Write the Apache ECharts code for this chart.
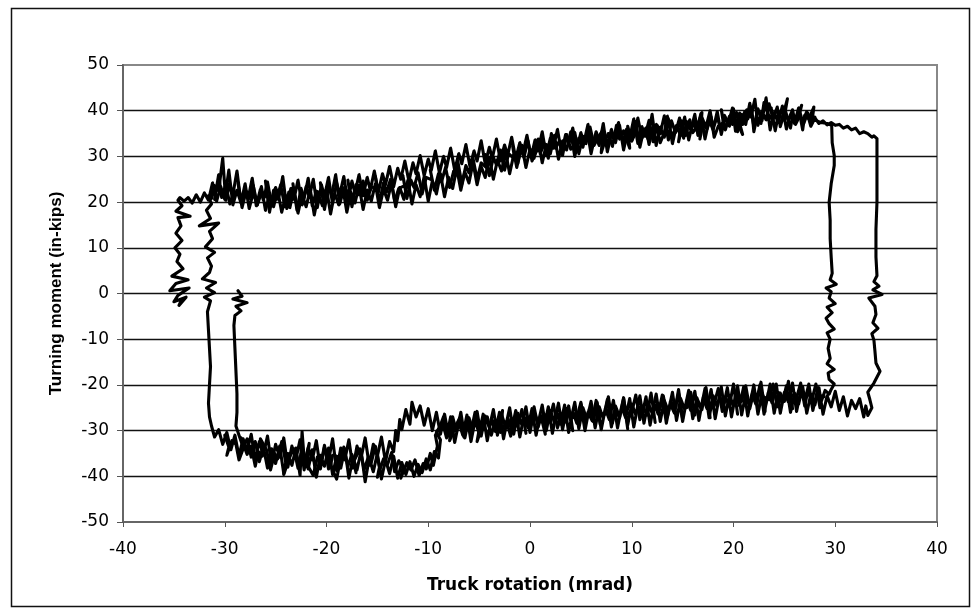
<!DOCTYPE html>
<html>
<head>
<meta charset="utf-8">
<script src="https://cdn.jsdelivr.net/npm/echarts@6/dist/echarts.min.js"></script>
<style>
html,body{margin:0;padding:0;background:#fff;}
#chart{width:974px;height:616px;}
</style>
</head>
<body>
<div id="chart"></div>
<script>
// ---- Axis definitions ----
var xTicks = [-40, -30, -20, -10, 0, 10, 20, 30, 40];
var yTicks = [-50, -40, -30, -20, -10, 0, 10, 20, 30, 40, 50];
var xTitle = 'Truck rotation (mrad)';
var yTitle = 'Turning moment (in-kips)';

// ---- Data segments [rotation mrad, moment in-kips] ----
// inner-left vertical (down from zero blob)
var leftInnerDown = [[-28.7,0.6],[-28.3,-0.6],[-29.2,-1.2],[-27.8,-2.0],[-28.9,-2.8],[-28.4,-3.8],[-29.0,-4.8],[-29.1,-7.0],[-29.0,-12.0],[-28.9,-17.0],[-28.8,-22.0],[-28.8,-26.0],[-28.9,-29.0],[-28.6,-31.0]];

// bottom branch, first pass (lower side of loop near -11)
var bottomPass1 = [[-28.6,-31.0],[-28.2,-33.6],[-27.8,-31.8],[-27.4,-35.8],[-27.0,-32.4],[-26.6,-36.8],[-26.2,-33.6],[-25.8,-38.2],[-25.4,-34.0],[-25.0,-37.2],[-24.6,-33.4],[-24.2,-39.4],[-23.8,-35.0],[-23.4,-37.6],[-23.0,-33.8],[-22.6,-39.8],[-22.4,-30.2],[-22.2,-36.0],[-21.8,-38.4],[-21.4,-34.2],[-21.0,-40.2],[-20.6,-35.4],[-20.2,-37.8],[-19.8,-33.8],[-19.4,-39.6],[-19.0,-35.6],[-18.6,-38.2],[-18.2,-34.0],[-17.8,-40.4],[-17.4,-35.8],[-17.0,-38.6],[-16.6,-34.4],[-16.2,-41.2],[-15.8,-36.0],[-15.4,-39.0],[-15.0,-35.0],[-14.6,-40.6],[-14.2,-36.4],[-13.8,-39.4],[-13.4,-35.6],[-13.0,-40.4],[-12.6,-37.0],[-12.2,-39.6],[-11.8,-36.8],[-11.4,-40.0],[-11.0,-37.4],[-10.6,-39.2],[-10.2,-36.2],[-9.8,-38.6],[-9.4,-34.6],[-9.0,-36.0],[-8.8,-32.0],[-9.2,-30.4],[-8.6,-28.2],[-8.2,-31.6],[-7.8,-27.0],[-7.4,-32.6],[-7.0,-28.2],[-6.6,-31.0],[-6.2,-26.6],[-5.8,-32.4],[-5.4,-27.8],[-5.0,-30.6],[-4.6,-26.4],[-4.2,-32.2],[-3.8,-27.4],[-3.4,-30.2],[-3.0,-26.0],[-2.6,-31.8],[-2.2,-27.2],[-1.8,-29.8],[-1.4,-25.6],[-1.0,-31.4],[-0.6,-26.8],[-0.2,-29.4],[0.2,-25.2],[0.6,-31.0],[1.0,-26.4],[1.4,-29.0],[1.8,-24.8],[2.2,-30.6],[2.6,-26.0],[3.0,-28.6],[3.4,-24.4],[3.8,-30.4],[4.2,-25.8],[4.6,-28.4],[5.0,-24.2],[5.4,-30.0],[5.8,-25.4],[6.2,-28.0],[6.6,-23.8],[7.0,-29.8],[7.4,-25.2],[7.8,-27.6],[8.2,-23.4],[8.6,-29.4],[9.0,-24.8],[9.4,-27.2],[9.8,-23.0],[10.2,-29.2],[10.6,-24.4],[11.0,-26.8],[11.4,-22.6],[11.8,-28.8],[12.2,-24.0],[12.6,-26.4],[13.0,-22.2],[13.4,-28.4],[13.8,-23.6],[14.2,-26.0],[14.6,-21.8],[15.0,-28.0],[15.4,-23.2],[15.8,-25.6],[16.2,-21.4],[16.6,-27.8],[17.0,-22.8],[17.4,-25.2],[17.8,-21.0],[18.2,-27.4],[18.6,-22.6],[19.0,-24.8],[19.4,-20.6],[19.8,-27.0],[20.2,-22.2],[20.6,-24.6],[21.0,-20.4],[21.4,-26.8],[21.8,-22.0],[22.2,-24.2],[22.6,-20.0],[23.0,-26.4],[23.4,-21.8],[23.8,-24.0],[24.2,-19.8],[24.6,-26.2],[25.0,-21.6],[25.4,-23.8],[25.8,-19.6],[26.2,-25.8],[26.6,-21.4],[27.0,-23.6],[27.4,-19.8],[27.8,-25.6],[28.2,-21.6],[28.6,-23.8],[29.0,-21.2],[29.4,-22.0]];

// right inner vertical (up)
var rightInnerUp = [[29.4,-22.0],[29.6,-21.0],[29.9,-19.8],[29.4,-18.8],[29.3,-17.4],[29.9,-16.6],[29.2,-15.4],[29.5,-14.2],[29.3,-12.0],[29.5,-10.0],[29.2,-8.6],[29.9,-7.8],[29.4,-6.6],[29.1,-5.4],[29.7,-4.2],[29.2,-3.0],[30.0,-2.2],[29.4,-1.0],[29.6,0.4],[29.1,1.2],[30.1,2.0],[29.5,3.0],[29.7,4.4],[29.6,8.0],[29.5,12.0],[29.5,16.0],[29.4,20.0],[29.6,24.0],[29.9,28.0],[29.9,30.2],[29.7,33.0],[29.65,36.8]];

// top branch, first pass (upper side between -10 and -3)
var topPass1 = [[29.65,36.8],[29.2,37.2],[28.6,37.4],[28.1,37.9],[27.6,37.6],[27.3,39.5],[26.9,37.2],[26.5,38.8],[26.1,37.0],[25.8,40.2],[25.4,38.0],[25.0,39.6],[24.6,36.5],[24.3,40.8],[23.9,38.2],[23.5,41.5],[23.2,38.0],[22.8,39.8],[22.4,36.8],[22.1,42.5],[21.7,38.6],[21.3,40.2],[20.9,37.0],[20.6,39.5],[20.2,35.5],[19.9,40.6],[19.5,37.3],[19.1,39.0],[18.8,35.2],[18.4,38.8],[18.0,36.0],[17.7,40.0],[17.3,36.4],[16.9,38.5],[16.5,34.6],[16.2,39.2],[15.8,35.8],[15.4,37.6],[15.1,34.0],[14.7,38.4],[14.3,35.2],[13.9,37.8],[13.6,33.6],[13.2,38.9],[12.8,35.0],[12.5,36.8],[12.1,33.2],[11.7,37.9],[11.3,34.4],[11.0,36.5],[10.6,32.8],[10.2,38.2],[9.8,34.0],[9.5,36.0],[9.1,33.0],[8.7,37.4],[8.3,33.8],[8.0,35.9],[7.6,32.2],[7.2,36.8],[6.8,33.4],[6.5,35.4],[6.1,31.8],[5.7,37.0],[5.3,33.0],[5.0,35.2],[4.6,31.5],[4.2,36.2],[3.8,32.6],[3.5,34.8],[3.1,30.8],[2.7,35.9],[2.3,31.8],[2.0,34.0],[1.6,30.2],[1.2,35.4],[0.8,31.2],[0.5,33.6],[0.1,29.8],[-0.3,34.6],[-0.7,30.6],[-1.0,33.0],[-1.4,29.5],[-1.8,34.2],[-2.2,30.2],[-2.5,32.5],[-2.9,29.0],[-3.3,33.8],[-3.7,29.6],[-4.0,32.0],[-4.4,28.4],[-4.8,33.4],[-5.2,29.0],[-5.5,31.2],[-5.9,27.8],[-6.3,32.6],[-6.7,28.4],[-7.0,30.6],[-7.4,27.0],[-7.8,31.8],[-8.2,27.6],[-8.5,30.0],[-8.9,26.4],[-9.3,31.2],[-9.7,27.0],[-10.0,29.4],[-10.4,25.8],[-10.8,30.2],[-11.2,26.2],[-11.5,28.6],[-11.9,24.6],[-12.3,29.0],[-12.7,25.0],[-13.0,27.4],[-13.4,23.4],[-13.8,27.8],[-14.2,23.8],[-14.5,26.2],[-14.9,22.2],[-15.3,26.8],[-15.7,22.6],[-16.0,25.4],[-16.4,21.4],[-16.8,26.0],[-17.2,22.0],[-17.5,24.6],[-17.9,20.2],[-18.3,25.6],[-18.7,21.6],[-19.0,24.2],[-19.4,19.6],[-19.8,25.4],[-20.2,21.2],[-20.5,23.8],[-20.9,18.8],[-21.3,25.0],[-21.7,21.0],[-22.0,23.4],[-22.4,19.4],[-22.8,24.8],[-23.2,20.6],[-23.5,23.0],[-23.9,18.6],[-24.3,25.6],[-24.7,20.8],[-25.0,23.2],[-25.4,19.6],[-25.8,24.4],[-26.2,20.4],[-26.5,22.8],[-26.9,19.2],[-27.3,25.2],[-27.7,20.8],[-28.0,23.4],[-28.4,19.8],[-28.8,26.8],[-29.2,21.6],[-29.5,24.0],[-29.9,20.4],[-30.2,29.6],[-30.6,22.4],[-31.0,23.6],[-31.3,20.8],[-31.6,21.4]];

// left inner-outer vertical (down)
var leftMidDown = [[-31.6,21.4],[-31.3,19.6],[-31.8,18.2],[-31.4,16.4],[-32.5,14.8],[-30.6,15.4],[-31.5,13.6],[-31.2,12.0],[-31.9,10.2],[-31.0,9.0],[-31.7,7.8],[-31.3,6.0],[-31.5,4.6],[-32.2,3.2],[-30.9,2.4],[-31.8,1.2],[-31.0,0.2],[-32.0,-0.8],[-31.4,-1.6],[-31.7,-4.0],[-31.6,-8.0],[-31.5,-12.0],[-31.4,-16.0],[-31.5,-20.0],[-31.6,-24.0],[-31.5,-27.0],[-31.3,-29.0]];

// bottom branch, second pass (upper side of loop near -11)
var bottomPass2 = [[-31.3,-29.0],[-31.0,-31.4],[-30.6,-29.8],[-30.2,-33.0],[-29.8,-30.4],[-29.4,-34.2],[-29.0,-31.0],[-28.6,-35.6],[-28.2,-31.8],[-27.8,-34.4],[-27.4,-30.8],[-27.0,-36.6],[-26.6,-32.4],[-26.2,-35.2],[-25.8,-31.2],[-25.4,-37.4],[-25.0,-33.0],[-24.6,-35.8],[-24.2,-31.6],[-23.8,-38.0],[-23.4,-33.4],[-23.0,-36.2],[-22.6,-32.0],[-22.2,-38.6],[-21.8,-33.8],[-21.4,-36.4],[-21.0,-32.2],[-20.6,-38.4],[-20.2,-33.6],[-19.8,-36.6],[-19.4,-31.8],[-19.0,-38.8],[-18.6,-33.8],[-18.2,-36.4],[-17.8,-32.0],[-17.4,-38.2],[-17.0,-33.4],[-16.6,-36.0],[-16.2,-31.6],[-15.8,-37.6],[-15.4,-33.0],[-15.0,-35.6],[-14.6,-31.4],[-14.2,-36.8],[-13.8,-32.4],[-13.4,-34.6],[-13.2,-30.0],[-13.0,-32.2],[-12.8,-27.6],[-12.6,-29.8],[-12.2,-25.4],[-11.8,-28.6],[-11.6,-23.8],[-11.2,-27.0],[-10.8,-24.6],[-10.4,-28.8],[-10.0,-25.2],[-9.6,-30.0],[-9.2,-26.0],[-8.8,-30.8],[-8.4,-26.4],[-8.0,-31.2],[-7.6,-27.0],[-7.2,-30.4],[-6.8,-26.0],[-6.4,-31.6],[-6.0,-27.2],[-5.6,-29.8],[-5.2,-25.8],[-4.8,-31.2],[-4.4,-26.8],[-4.0,-29.4],[-3.6,-25.4],[-3.2,-31.0],[-2.8,-26.4],[-2.4,-29.2],[-2.0,-25.0],[-1.6,-30.8],[-1.2,-26.2],[-0.8,-28.8],[-0.4,-24.8],[0.0,-30.4],[0.4,-25.8],[0.8,-28.4],[1.2,-24.4],[1.6,-30.0],[2.0,-25.6],[2.4,-28.2],[2.8,-24.0],[3.2,-29.8],[3.6,-25.2],[4.0,-27.8],[4.4,-23.8],[4.8,-29.6],[5.2,-25.0],[5.6,-27.6],[6.0,-23.6],[6.4,-29.4],[6.8,-24.8],[7.2,-27.4],[7.6,-23.2],[8.0,-29.2],[8.4,-24.6],[8.8,-27.0],[9.2,-22.8],[9.6,-28.8],[10.0,-24.2],[10.4,-26.6],[10.8,-22.4],[11.2,-28.4],[11.6,-23.8],[12.0,-26.2],[12.4,-22.0],[12.8,-28.0],[13.2,-23.4],[13.6,-25.8],[14.0,-21.6],[14.4,-27.8],[14.8,-23.0],[15.2,-25.4],[15.6,-21.2],[16.0,-27.4],[16.4,-22.8],[16.8,-25.2],[17.2,-20.8],[17.6,-27.2],[18.0,-22.4],[18.4,-24.8],[18.8,-20.4],[19.2,-26.8],[19.6,-22.2],[20.0,-24.6],[20.4,-20.2],[20.8,-26.6],[21.2,-22.0],[21.6,-24.4],[22.0,-20.0],[22.4,-26.4],[22.8,-21.8],[23.2,-24.2],[23.6,-19.8],[24.0,-26.2],[24.4,-21.6],[24.8,-24.0],[25.2,-20.2],[25.6,-26.0],[26.0,-21.8],[26.4,-24.2],[26.8,-20.4],[27.2,-26.2],[27.6,-22.0],[28.0,-24.4],[28.4,-20.6],[28.8,-26.4],[29.2,-22.4],[29.6,-24.8],[30.0,-21.4],[30.4,-25.6],[30.8,-22.6],[31.2,-26.8],[31.6,-23.4],[32.0,-25.2],[32.4,-23.0],[32.8,-27.0],[33.0,-24.6],[33.2,-26.7]];

// right outer vertical (up)
var rightOuterUp = [[33.2,-26.7],[33.6,-25.0],[33.4,-23.2],[33.2,-21.6],[33.8,-19.6],[34.4,-17.0],[34.0,-15.2],[33.9,-12.6],[33.8,-10.2],[33.6,-8.8],[34.2,-7.6],[33.7,-6.4],[34.0,-4.6],[33.9,-2.8],[33.3,-1.0],[34.6,-0.2],[33.7,0.8],[34.3,1.6],[33.8,2.6],[34.1,3.9],[34.0,8.0],[34.0,14.0],[34.1,20.0],[34.1,26.0],[34.1,30.0],[34.1,33.9]];

// top branch, second pass (lower side between -10 and -3)
var topPass2 = [[34.1,33.9],[33.8,34.5],[33.6,34.2],[33.2,35.0],[32.8,35.4],[32.4,35.0],[32.0,36.2],[31.6,35.8],[31.2,36.6],[30.8,36.2],[30.4,37.0],[30.0,36.8],[29.6,37.4],[29.2,36.9],[28.8,37.8],[28.4,37.2],[28.0,38.4],[27.6,36.6],[27.2,39.8],[26.8,37.6],[26.4,40.6],[26.0,37.2],[25.6,39.2],[25.2,36.0],[24.8,41.0],[24.4,37.4],[24.0,39.6],[23.6,35.8],[23.2,42.8],[22.8,37.8],[22.4,40.4],[22.0,36.6],[21.6,41.6],[21.2,37.0],[20.8,39.2],[20.4,35.4],[20.0,40.4],[19.6,36.6],[19.2,38.6],[18.8,34.8],[18.4,39.8],[18.0,35.8],[17.6,38.0],[17.2,33.8],[16.8,39.4],[16.4,35.6],[16.0,37.4],[15.6,33.6],[15.2,38.6],[14.8,34.6],[14.4,36.8],[14.0,32.8],[13.6,38.2],[13.2,34.2],[12.8,36.4],[12.4,32.4],[12.0,39.2],[11.6,33.8],[11.2,36.0],[10.8,32.0],[10.4,37.6],[10.0,33.4],[9.6,35.6],[9.2,31.4],[8.8,36.8],[8.4,33.0],[8.0,35.0],[7.6,31.0],[7.2,37.2],[6.8,32.4],[6.4,34.6],[6.0,30.6],[5.6,36.0],[5.2,32.0],[4.8,34.0],[4.4,30.0],[4.0,35.4],[3.6,31.4],[3.2,33.4],[2.8,29.4],[2.4,34.6],[2.0,30.6],[1.6,32.6],[1.2,28.6],[0.8,33.8],[0.4,29.6],[0.0,31.6],[-0.4,27.6],[-0.8,32.4],[-1.2,28.4],[-1.6,30.4],[-2.0,26.2],[-2.4,31.0],[-2.8,26.8],[-3.2,29.2],[-3.6,25.0],[-4.0,29.8],[-4.4,25.4],[-4.8,27.8],[-5.2,23.8],[-5.6,28.6],[-6.0,24.2],[-6.4,26.6],[-6.8,22.6],[-7.2,27.4],[-7.6,23.0],[-8.0,25.4],[-8.4,21.2],[-8.8,26.2],[-9.2,21.8],[-9.6,24.6],[-10.0,20.2],[-10.4,25.6],[-10.8,21.2],[-11.2,23.8],[-11.6,19.6],[-12.0,24.8],[-12.4,20.6],[-12.8,23.2],[-13.2,19.0],[-13.6,24.4],[-14.0,20.4],[-14.4,22.8],[-14.8,18.8],[-15.2,24.0],[-15.6,20.2],[-16.0,22.6],[-16.4,18.4],[-16.8,23.6],[-17.2,19.8],[-17.6,22.2],[-18.0,17.8],[-18.4,23.2],[-18.8,19.4],[-19.2,22.0],[-19.6,17.4],[-20.0,23.0],[-20.4,19.2],[-20.8,21.8],[-21.2,17.2],[-21.6,22.8],[-22.0,19.0],[-22.4,21.6],[-22.8,17.6],[-23.2,23.0],[-23.6,18.8],[-24.0,21.4],[-24.4,17.8],[-24.8,22.6],[-25.2,19.0],[-25.6,21.6],[-26.0,18.2],[-26.4,23.4],[-26.8,19.4],[-27.2,22.0],[-27.6,18.6],[-28.0,24.0],[-28.4,19.8],[-28.8,22.6],[-29.2,19.4],[-29.6,27.0],[-30.0,20.6],[-30.4,23.4],[-30.8,20.2],[-31.2,24.2],[-31.6,20.4],[-32.0,22.0],[-32.4,20.0],[-32.8,21.6],[-33.2,19.8],[-33.6,21.0],[-34.0,20.2],[-34.4,21.0],[-34.6,20.4]];

// left outer vertical (down to zero blob)
var leftOuterDown = [[-34.6,20.4],[-34.2,19.2],[-34.8,18.0],[-33.4,16.9],[-34.6,16.6],[-34.3,14.8],[-34.8,13.2],[-34.2,11.6],[-34.9,10.0],[-34.4,8.6],[-34.7,7.0],[-34.1,5.4],[-35.2,3.8],[-33.6,3.0],[-34.8,2.2],[-35.4,0.6],[-33.5,1.2],[-34.6,-0.4],[-35.0,-1.8],[-33.8,-0.8],[-34.5,-2.6],[-34.2,-1.2]];

// extra overlapping pass along the top band
var topPass3 = [[28.0,38.6],[27.7,37.4],[27.9,40.8],[27.4,38.2],[27.0,39.0],[26.8,35.8],[26.5,39.4],[26.7,41.2],[26.2,38.0],[25.8,38.8],[25.6,36.2],[25.1,40.0],[25.3,42.6],[24.8,38.4],[24.4,39.0],[24.1,35.6],[23.7,40.6],[23.9,37.8],[23.4,39.2],[23.0,41.8],[22.7,37.2],[22.3,38.6],[22.0,35.4],[21.8,40.4],[21.4,38.2],[21.1,39.8],[20.6,36.2],[20.9,34.8],[20.3,39.6],[19.9,37.0],[19.6,38.8],[19.2,35.8],[18.8,40.2],[19.0,37.4],[18.5,36.6],[18.1,34.2],[17.8,38.6],[17.4,36.0],[17.0,37.2],[16.7,33.8],[16.9,39.6],[16.4,36.4],[16.0,35.2],[15.7,38.0],[15.3,34.6],[15.0,36.8],[14.6,33.2],[14.9,37.8],[14.3,36.0],[13.9,34.4],[13.5,38.8],[13.2,35.2],[12.8,33.0],[12.4,37.0],[12.7,35.6],[12.1,36.6],[11.7,32.6],[11.4,36.2],[11.0,34.0],[10.6,38.4],[10.3,34.8],[10.0,33.4],[9.6,36.6],[9.8,31.8],[9.2,35.6],[8.8,33.8],[8.5,36.8],[8.1,32.2],[7.7,35.0],[7.4,33.6],[7.0,30.8],[7.2,35.8],[6.7,34.2],[6.3,32.4],[5.9,36.4],[5.5,32.8],[5.2,34.4],[4.8,30.6],[4.4,35.2],[4.6,33.0],[4.0,31.6],[3.6,34.8],[3.2,30.2],[2.9,33.4],[2.5,31.8],[2.1,35.0],[1.8,29.6],[1.4,32.8],[1.0,30.6],[1.2,34.2],[0.6,31.0],[0.2,29.0],[-0.2,33.4],[-0.6,29.8],[-0.9,31.8],[-1.3,27.6],[-1.7,32.2],[-1.5,29.4],[-2.1,30.6],[-2.5,27.0],[-2.9,31.4],[-3.3,28.2],[-3.6,29.8],[-4.0,25.8],[-4.4,30.4],[-4.2,27.4],[-4.8,28.6],[-5.2,25.0],[-5.6,29.6],[-6.0,26.4],[-6.3,28.0],[-6.7,24.0],[-7.1,29.0],[-6.9,25.6],[-7.5,26.8],[-7.9,23.2],[-8.3,27.6],[-8.7,24.4],[-9.0,26.2],[-9.4,22.6],[-9.8,27.0],[-9.6,24.8],[-10.2,25.4],[-10.6,21.8],[-11.0,26.4],[-11.4,23.2],[-11.7,24.8],[-12.1,20.8],[-12.5,25.8],[-12.3,23.6],[-12.9,23.0],[-13.3,20.2],[-13.7,25.0],[-14.1,22.2],[-14.4,24.2],[-14.8,19.8],[-15.2,25.6],[-15.0,22.8],[-15.6,23.4],[-16.0,20.4],[-16.4,24.6],[-16.8,21.6],[-17.1,23.8],[-17.5,19.0],[-17.9,24.8],[-17.7,22.2],[-18.3,22.8],[-18.7,19.6],[-19.1,26.0],[-19.5,21.4],[-19.8,23.4],[-20.2,18.4],[-20.6,24.2],[-20.4,21.8],[-21.0,22.4],[-21.4,19.2],[-21.8,25.2],[-22.2,20.8],[-22.5,23.0],[-22.9,18.2],[-23.3,24.0],[-23.1,21.2],[-23.7,22.2],[-24.1,19.0],[-24.5,23.8],[-24.9,20.6],[-25.2,22.6],[-25.6,17.8],[-26.0,24.6],[-25.8,21.0],[-26.4,22.0],[-26.8,19.4],[-27.2,23.6],[-27.6,20.8],[-27.9,22.4],[-28.3,18.8],[-28.7,24.2],[-28.5,21.4],[-29.1,22.2],[-29.5,19.6],[-29.9,23.8],[-30.3,21.0],[-30.6,26.0],[-31.0,20.6]];

// extra overlapping pass along the bottom band
var bottomPass3 = [[-30.0,-31.0],[-29.6,-33.6],[-29.8,-35.4],[-29.3,-32.2],[-28.9,-33.0],[-28.6,-36.4],[-28.2,-34.0],[-28.4,-31.6],[-27.8,-35.2],[-27.4,-33.4],[-27.0,-37.8],[-26.7,-34.6],[-26.3,-35.6],[-26.5,-31.8],[-25.9,-34.2],[-25.5,-38.6],[-25.1,-35.0],[-24.8,-36.2],[-24.4,-32.4],[-24.0,-37.0],[-24.2,-39.6],[-23.6,-35.6],[-23.2,-34.0],[-22.8,-38.2],[-22.5,-35.0],[-22.1,-36.6],[-21.7,-32.8],[-21.9,-37.4],[-21.3,-39.8],[-20.9,-35.8],[-20.5,-36.8],[-20.2,-33.2],[-19.8,-38.4],[-19.4,-35.4],[-19.6,-37.6],[-19.0,-40.6],[-18.6,-36.0],[-18.3,-33.6],[-17.9,-37.8],[-17.5,-35.2],[-17.1,-39.2],[-17.3,-36.6],[-16.7,-34.0],[-16.3,-38.6],[-15.9,-35.8],[-15.6,-37.0],[-15.2,-33.4],[-14.8,-38.0],[-15.0,-40.2],[-14.4,-36.2],[-14.0,-37.4],[-13.6,-34.8],[-13.3,-39.0],[-12.9,-36.6],[-12.5,-38.2],[-12.7,-40.4],[-12.1,-37.0],[-11.7,-38.6],[-11.3,-36.4],[-10.9,-39.8],[-10.5,-37.2],[-10.2,-38.4],[-9.8,-35.0],[-9.5,-37.6],[-9.1,-33.4],[-9.3,-31.0],[-8.9,-29.4],[-8.5,-27.0],[-8.1,-30.8],[-7.7,-28.4],[-7.9,-32.2],[-7.3,-29.0],[-6.9,-27.2],[-6.5,-31.4],[-6.1,-28.0],[-5.8,-30.2],[-5.4,-26.0],[-5.0,-29.8],[-5.2,-32.4],[-4.6,-28.4],[-4.2,-27.0],[-3.8,-31.0],[-3.5,-28.6],[-3.1,-29.6],[-2.7,-25.6],[-2.9,-30.4],[-2.3,-28.0],[-1.9,-31.2],[-1.5,-27.4],[-1.2,-29.0],[-0.8,-25.4],[-0.4,-30.6],[-0.6,-27.8],[0.0,-28.4],[0.4,-24.8],[0.8,-29.2],[1.1,-27.0],[1.5,-30.8],[1.3,-26.2],[1.9,-27.6],[2.3,-24.2],[2.7,-29.4],[3.1,-26.4],[3.4,-28.2],[3.8,-24.6],[4.2,-30.0],[4.0,-26.8],[4.6,-27.4],[5.0,-23.8],[5.4,-29.0],[5.7,-26.0],[6.1,-27.8],[6.5,-23.4],[6.9,-28.6],[6.7,-25.8],[7.3,-26.6],[7.7,-22.6],[8.1,-28.4],[8.4,-25.2],[8.8,-27.2],[9.2,-23.0],[9.6,-29.6],[9.4,-26.4],[10.0,-26.0],[10.4,-22.2],[10.8,-27.6],[11.1,-24.8],[11.5,-26.6],[11.9,-21.8],[12.3,-28.2],[12.1,-25.0],[12.7,-25.6],[13.1,-22.4],[13.5,-27.0],[13.8,-24.2],[14.2,-26.2],[14.6,-21.0],[15.0,-27.4],[14.8,-24.6],[15.4,-25.0],[15.8,-21.6],[16.2,-26.6],[16.5,-23.6],[16.9,-25.4],[17.3,-20.6],[17.7,-27.2],[17.5,-23.8],[18.1,-24.2],[18.5,-20.8],[18.9,-25.8],[19.2,-22.8],[19.6,-24.6],[20.0,-19.8],[20.4,-26.4],[20.2,-23.2],[20.8,-23.6],[21.2,-20.2],[21.6,-25.2],[21.9,-22.4],[22.3,-24.2],[22.7,-19.4],[23.1,-25.8],[22.9,-22.6],[23.5,-23.2],[23.9,-19.8],[24.3,-24.8],[24.6,-21.8],[25.0,-23.6],[25.4,-19.2],[25.8,-25.2],[25.6,-22.0],[26.2,-22.8],[26.6,-19.6],[27.0,-24.6],[27.3,-21.4],[27.7,-23.4],[28.1,-19.8],[28.5,-25.0],[28.3,-22.2],[28.9,-22.6]];

var trace = [].concat(leftInnerDown, bottomPass1, rightInnerUp, topPass1, leftMidDown,
                      bottomPass2, rightOuterUp, topPass2, leftOuterDown);

function traceSeries(d) {
  return {
    type: 'line', data: d, showSymbol: false, symbol: 'none', clip: true,
    lineStyle: {color: '#000', width: 3.1, join: 'round', cap: 'round'}
  };
}

var chart = echarts.init(document.getElementById('chart'), null, {renderer: 'canvas'});
var tickFont = {fontFamily: 'DejaVu Sans', fontSize: 17, color: '#000'};
chart.setOption({
  animation: false,
  backgroundColor: '#fff',
  graphic: [{
    type: 'rect', left: 9, top: 6, silent: true,
    shape: {width: 958, height: 598},
    style: {fill: 'none', stroke: '#111', lineWidth: 1.5}
  }],
  grid: {left: 123, top: 65, width: 814, height: 457, show: true,
         borderColor: '#888', borderWidth: 2, backgroundColor: 'transparent'},
  xAxis: {
    type: 'value', min: xTicks[0], max: xTicks[xTicks.length-1], interval: 10,
    name: xTitle, nameLocation: 'middle', nameGap: 55,
    nameTextStyle: {fontFamily: 'DejaVu Sans', fontWeight: 'bold', fontSize: 17, color: '#000'},
    axisLine: {onZero: false, lineStyle: {color: '#666', width: 2}},
    axisTick: {show: true, inside: false, length: 5, lineStyle: {color: '#555', width: 1}},
    axisLabel: Object.assign({margin: 19}, tickFont),
    splitLine: {show: false}
  },
  yAxis: {
    type: 'value', min: yTicks[0], max: yTicks[yTicks.length-1], interval: 10,
    name: yTitle, nameLocation: 'middle', nameGap: 58, nameRotate: 90,
    nameTextStyle: {fontFamily: 'Liberation Sans', fontWeight: 'bold', fontSize: 17, color: '#000'},
    axisLine: {onZero: false, lineStyle: {color: '#666', width: 2}},
    axisTick: {show: true, inside: false, length: 6, lineStyle: {color: '#555', width: 1}},
    axisLabel: Object.assign({margin: 14}, tickFont),
    splitLine: {show: true, showMinLine: false, showMaxLine: false, lineStyle: {color: '#111', width: 1.3}}
  },
  series: [traceSeries(trace), traceSeries(topPass3), traceSeries(bottomPass3)]
});
</script>
</body>
</html>
